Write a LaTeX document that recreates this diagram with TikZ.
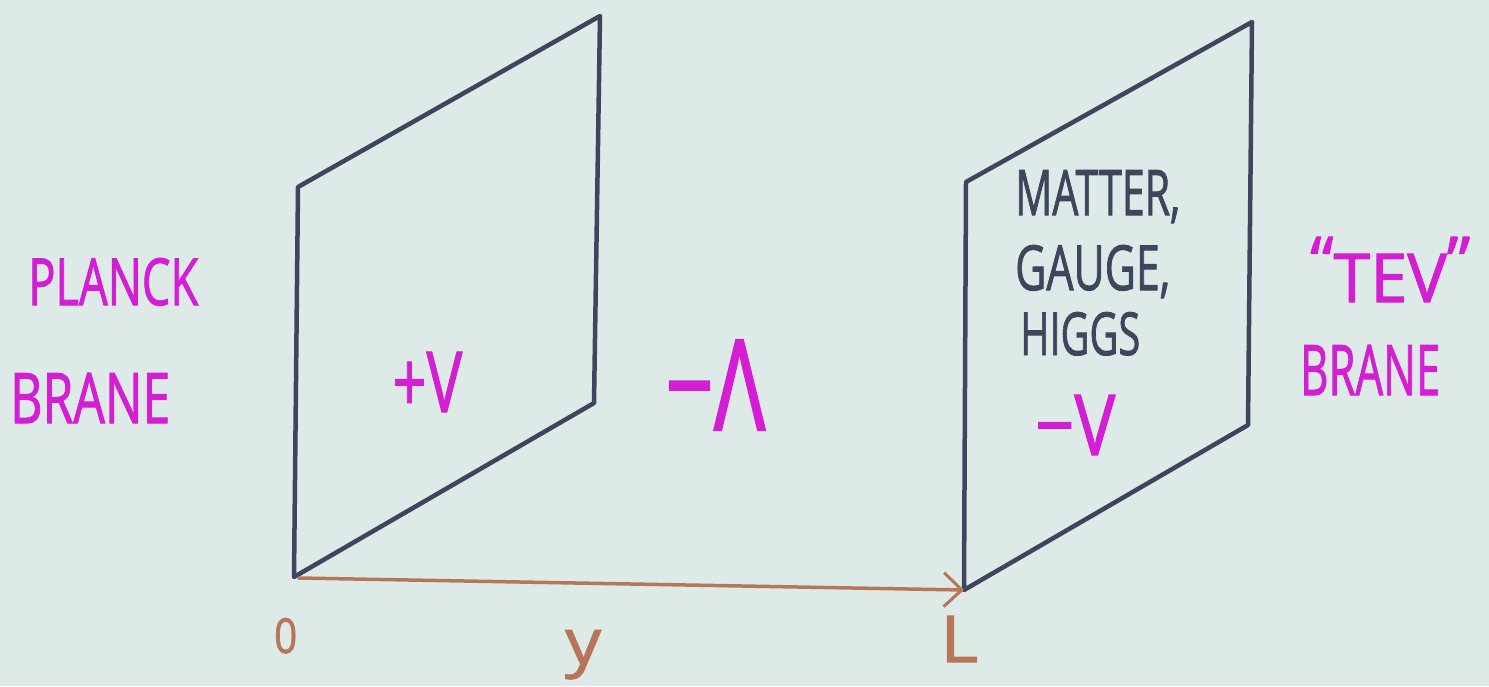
\documentclass[tikz,border=0pt]{standalone}
\usepackage{fontspec}
\usepackage{graphicx}
\setmainfont{Open Sans}[FakeBold=1.6,BoldFont=Open Sans]
\usetikzlibrary{arrows.meta,calc}
\definecolor{bgcol}{RGB}{221,234,232}
\definecolor{ink}{RGB}{64,68,92}
\definecolor{magent}{RGB}{212,30,212}
\definecolor{glow}{RGB}{228,170,228}
\definecolor{brownink}{RGB}{184,118,88}
\newcommand{\lab}[3]{\resizebox{#1pt}{#2pt}{\bfseries #3}}
\tikzset{
  brane/.style={draw=ink, line width=4.5pt, line join=round, line cap=round},
  axis/.style={draw=brownink, line width=3.5pt, -{Straight Barb[length=18pt,width=34pt,line width=3pt]}},
  mtext/.style={text=magent, inner sep=0pt, anchor=base west},
  btext/.style={text=ink, inner sep=0pt, anchor=base west},
  otext/.style={text=brownink, inner sep=0pt, anchor=base west},
}
\begin{document}
\begin{tikzpicture}[x=1pt,y=-1pt]
\fill[bgcol] (0,0) rectangle (1489,686);
\useasboundingbox (0,0) rectangle (1489,686);
% left brane
\coordinate (ltl) at (298,187);
\coordinate (ltr) at (600,16);
\coordinate (lbr) at (594,403);
\coordinate (lbl) at (294,577);
% right brane
\coordinate (rtl) at (966,182);
\coordinate (rtr) at (1252,22);
\coordinate (rbr) at (1248,425);
\coordinate (rbl) at (964,590);
\draw[brane] (ltl) -- (ltr) -- (lbr) -- (lbl) -- cycle;
\draw[brane] (rtl) -- (rtr) -- (rbr) -- (rbl) -- cycle;
\draw[axis] ($(lbl)+(4,1)$) -- (rbl);
% labels
\node[mtext] (planck) at (28,305) {\lab{170}{47}{PLANCK}};
\node[mtext] (braneL) at (10,423) {\lab{160}{50}{BRANE}};
\node[mtext] (plusV) at (392,412) {\lab{70}{60}{+V}};
\node[mtext] (lam) at (665,430) {\lab{100}{90}{−Λ}};
\node[btext] (matter) at (1015,215) {\lab{165}{45}{MATTER,}};
\node[btext] (gauge) at (1015,290) {\lab{155}{45}{GAUGE,}};
\node[btext] (higgs) at (1020,355) {\lab{120}{43}{HIGGS}};
\node[mtext] (minusV) at (1035,455) {\lab{80}{60}{−V}};
\node[mtext] (tev) at (1310,302) {\lab{160}{65}{\raisebox{2.5pt}{“}TEV\raisebox{2.5pt}{”}}};
\node[mtext] (braneR) at (1300,395) {\lab{140}{50}{BRANE}};
\node[otext] (zero) at (274,653) {\lab{23}{35}{0}};
\node[otext] (yy) at (565,664) {\lab{36}{34}{y}};
\node[otext] (LL) at (940,662) {\lab{38}{46}{L}};
\end{tikzpicture}
\end{document}
